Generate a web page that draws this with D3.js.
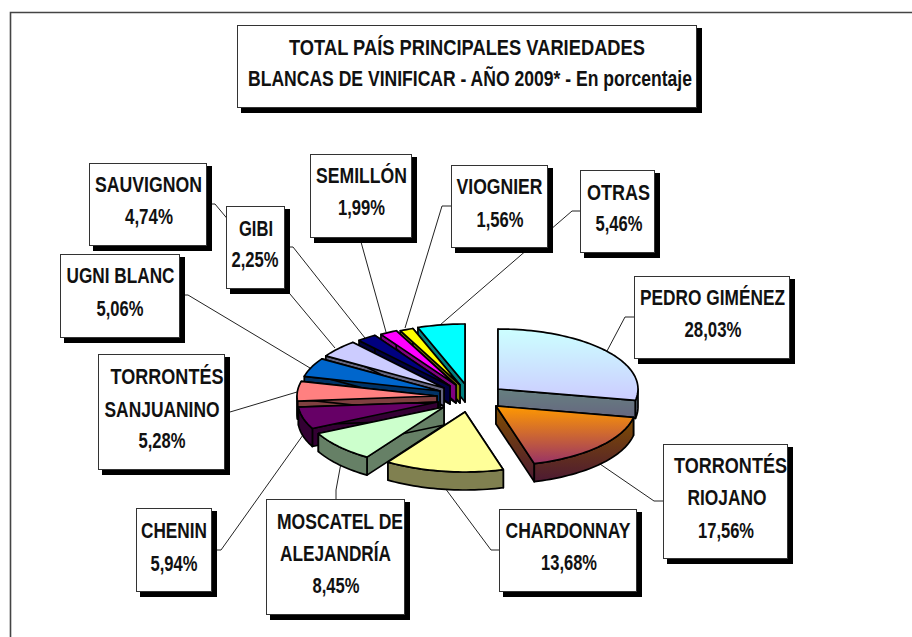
<!DOCTYPE html>
<html><head><meta charset="utf-8">
<script src="https://cdn.jsdelivr.net/npm/d3@7/dist/d3.min.js"></script>
<style>html,body{margin:0;padding:0;background:#fff}svg{display:block}text{font-family:"Liberation Sans",Arial,sans-serif;font-weight:bold;fill:#111}</style>
</head><body><svg id="c" width="912" height="637"></svg>
<script>
// ---- data ----
const varieties = ["PEDRO GIMÉNEZ","TORRONTÉS RIOJANO","CHARDONNAY","MOSCATEL DE ALEJANDRÍA","CHENIN","TORRONTÉS SANJUANINO","UGNI BLANC","SAUVIGNON","GIBI","SEMILLÓN","VIOGNIER","OTRAS"];
const shares = [28.03,17.56,13.68,8.45,5.94,5.28,5.06,4.74,2.25,1.99,1.56,5.46];
const shareLabels = ["28,03%","17,56%","13,68%","8,45%","5,94%","5,28%","5,06%","4,74%","2,25%","1,99%","1,56%","5,46%"];
const nameLines = [["PEDRO GIMÉNEZ"],["TORRONTÉS","RIOJANO"],["CHARDONNAY"],["MOSCATEL DE","ALEJANDRÍA"],["CHENIN"],["TORRONTÉS","SANJUANINO"],["UGNI BLANC"],["SAUVIGNON"],["GIBI"],["SEMILLÓN"],["VIOGNIER"],["OTRAS"]];
const titleLines = ["TOTAL PAÍS PRINCIPALES VARIEDADES","BLANCAS DE VINIFICAR - AÑO 2009* - En porcentaje"];
const topColors = ["url(#gTop0)","url(#gTop1)","#FFFF99","#CCFFCC","#660066","#FF8080","#0066CC","#CCCCFF","#000080","#FF00FF","#FFFF00","#00FFFF"];
const wallColors = ["url(#gWall0)","url(#gWall1)","#808050","#668066","#330033","#804040","#003366","#666680","#000040","#800080","#808000","#008080"];

// ---- layout ----
const W=912,H=637, CX=468, CY=397, RX=140, RY=60, DEPTH=18;
const explodeX=[30,28,-3,-24,-30,-31,-28,-24,-18,-12,-8,-3];
const explodeY=[-8,9,15,10,5,-1,-6,-9,-11,-12,-12,-13];
// box: left, top, right, bottom; lines: [centre x, baseline y, width]
const boxes=[
 [634,276,789,358],[663,444,787,558],[499,509,636,591],[266,499,404,614],[136,508,211,591],[98,354,224,469],
 [60,254,179,337],[89,163,206,245],[226,206,284,288],[310,154,411,237],[451,165,547,247],[580,170,654,252]];
const textPos=[
 [[712.5,305,145],[713,337,57]],[[730.5,472.5,113],[727,505,79],[726,538,56]],[[568,538,125],[569,570,56]],[[340,529,126],[335.5,561,111],[336,593,47]],
 [[174,538,66],[174,571,47]],[[167,384,113],[162,417,115],[162,448,47]],[[120.5,283,108],[120,316,47]],[[148.5,191.5,107],[149,224,48]],
 [[256,236,34],[255,267,47]],[[361.5,183,91],[361.5,215,47]],[[499.5,194,86],[500,227,47]],[[618.5,200,63],[619,231,47]]];
const leaders=[
 [[634,317],[625,317],[607,351]],
 [[663,501],[654,501],[600,464]],
 [[499,550],[491,550],[445,488]],
 [[336,499],[336,490],[341,463]],
 [[217,550],[221,550],[303,435]],
 [[230,412],[297,392]],
 [[185,295],[188,295],[310,368]],
 [[212,204],[215,204],[335,348]],
 [[289,247],[293,247],[365,338]],
 [[361,242],[386,332]],
 [[451,206],[442,206],[405,328]],
 [[580,211],[572,211],[440,325]]];

const svg=d3.select("#c");
const defs=svg.append("defs");
function grad(id,c1,c2){const g=defs.append("linearGradient").attr("id",id).attr("x1",0).attr("y1",0).attr("x2",0).attr("y2",1);
 g.append("stop").attr("offset",0).attr("stop-color",c1);g.append("stop").attr("offset",1).attr("stop-color",c2);}
grad("gTop0","#CCFFFF","#CCCCFF");grad("gWall0","#668080","#666680");
grad("gTop1","#FF9900","#993366");grad("gWall1","#804D00","#4D1A33");

// frame
svg.append("path").attr("d",`M10.5,${H}V12.5H${W}`).attr("fill","none").attr("stroke","#444").attr("stroke-width",1.6);

// pie geometry
const slices=d3.pie().value(d=>d).sort(null)(shares);
const line=d3.line().curve(d3.curveLinear);
const proj=(i,a,z=0)=>[CX+explodeX[i]+RX*Math.sin(a), CY+explodeY[i]-RY*Math.cos(a)+z];
const arcPts=(i,a0,a1,z)=>{const n=Math.max(2,Math.ceil((a1-a0)/0.03));return d3.range(n+1).map(k=>proj(i,a0+(a1-a0)*k/n,z));};
const apex=(i,z=0)=>[CX+explodeX[i],CY+explodeY[i]+z];

// leaders under the boxes and pie
svg.append("g").selectAll("path").data(leaders).join("path")
 .attr("d",d=>line(d)).attr("fill","none").attr("stroke","#222").attr("stroke-width",1);

// paint back to front
const order=[11,10,9,8,7,6,5,4,3,2,0,1];
const pieG=svg.append("g").attr("stroke","#000").attr("stroke-width",1.7).attr("stroke-linejoin","round");
order.forEach(i=>{
 const s=slices[i],a0=s.startAngle,a1=s.endAngle,g=pieG.append("g");
 const wall=wallColors[i];
 [a0,a1].forEach(a=>{
  g.append("path").attr("fill",wall).attr("d",line([apex(i),proj(i,a),proj(i,a,DEPTH),apex(i,DEPTH)])+"Z");
 });
 const v0=Math.max(a0,Math.PI/2),v1=Math.min(a1,3*Math.PI/2);
 if(v1>v0){
  g.append("path").attr("fill",wall).attr("d",line(arcPts(i,v0,v1,0).concat(arcPts(i,v0,v1,DEPTH).reverse()))+"Z");
 }
 g.append("path").attr("fill",topColors[i]).attr("d",line([apex(i)].concat(arcPts(i,a0,a1,0)))+"Z");
});

// boxes
function box(b){
 svg.append("rect").attr("x",b[0]+4).attr("y",b[1]+3).attr("width",b[2]-b[0]+2).attr("height",b[3]-b[1]+3).attr("fill","#000");
 svg.append("rect").attr("x",b[0]+.5).attr("y",b[1]+.5).attr("width",b[2]-b[0]).attr("height",b[3]-b[1]).attr("fill","#fff").attr("stroke","#333").attr("stroke-width",1);
}
function label(t,x,y,w){
 svg.append("text").attr("transform",`translate(${x},${y}) scale(1,1.22)`).attr("text-anchor","middle").attr("font-size",18)
  .attr("textLength",w).attr("lengthAdjust","spacingAndGlyphs").text(t);
}
box([237,25,696,107]);
label(titleLines[0],467,55,356);
label(titleLines[1],470,86,444);
boxes.forEach((b,i)=>{
 box(b);
 const lines=nameLines[i].concat(shareLabels[i]);
 lines.forEach((t,k)=>label(t,textPos[i][k][0],textPos[i][k][1],textPos[i][k][2]));
});
</script></body></html>
